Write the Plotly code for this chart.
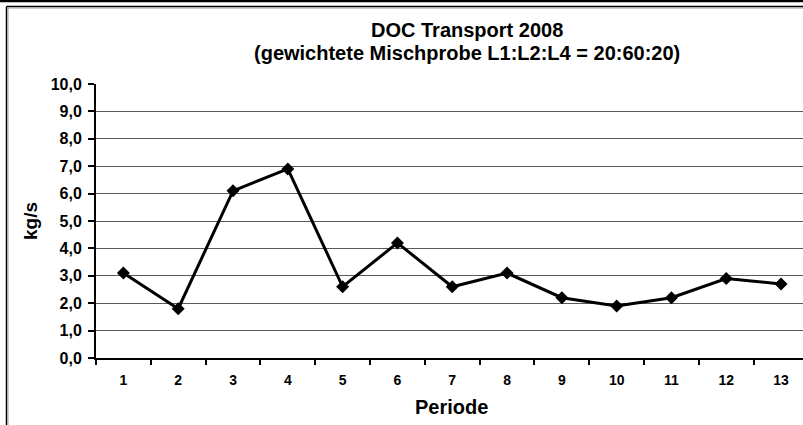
import plotly.graph_objects as go

# DOC transport per sampling period (kg/s)
perioden = ["1", "2", "3", "4", "5", "6", "7", "8", "9", "10", "11", "12", "13"]
doc_kg_s = [3.1, 1.8, 6.1, 6.9, 2.6, 4.2, 2.6, 3.1, 2.2, 1.9, 2.2, 2.9, 2.7]
y_ticks = [0, 1, 2, 3, 4, 5, 6, 7, 8, 9, 10]
title_lines = ["DOC Transport 2008", "(gewichtete Mischprobe L1:L2:L4 = 20:60:20)"]

W, H = 803, 425
L, R, T, B = 96, 0, 84, 67
FONT = "Liberation Sans, Arial, sans-serif"

def px_x(px):
    return (px - L) / (W - L - R)

def px_y(py):
    return (H - B - py) / (H - T - B)

fig = go.Figure()
fig.add_trace(go.Scatter(
    x=perioden, y=doc_kg_s, mode="lines+markers",
    line=dict(color="black", width=3),
    marker=dict(symbol="diamond", size=10, color="black"),
    showlegend=False, cliponaxis=False,
))

shapes = [
    # thick rule across the top
    dict(type="line", xref="paper", yref="paper", x0=px_x(-5), x1=px_x(W + 5),
         y0=px_y(1), y1=px_y(1), line=dict(color="black", width=2.5)),
    # chart frame (left and top edges)
    dict(type="line", xref="paper", yref="paper", x0=px_x(6.5), x1=px_x(6.5),
         y0=px_y(6.5), y1=px_y(H + 5), line=dict(color="black", width=1.5)),
    dict(type="line", xref="paper", yref="paper", x0=px_x(6.5), x1=px_x(W + 5),
         y0=px_y(6.5), y1=px_y(6.5), line=dict(color="black", width=1.5)),
    dict(type="line", xref="paper", yref="paper", x0=px_x(8), x1=px_x(8),
         y0=px_y(8), y1=px_y(H + 5), line=dict(color="#9a9a9a", width=1)),
    dict(type="line", xref="paper", yref="paper", x0=px_x(8), x1=px_x(W + 5),
         y0=px_y(8), y1=px_y(8), line=dict(color="#9a9a9a", width=1)),
]

annotations = [
    dict(text="<b>%s</b>" % title_lines[0], xref="paper", yref="paper",
         x=px_x(467), y=px_y(30), showarrow=False, xanchor="center", yanchor="middle",
         font=dict(family=FONT, size=20, color="black")),
    dict(text="<b>%s</b>" % title_lines[1], xref="paper", yref="paper",
         x=px_x(467), y=px_y(53), showarrow=False, xanchor="center", yanchor="middle",
         font=dict(family=FONT, size=20, color="black")),
    dict(text="<b>kg/s</b>", xref="paper", yref="paper", x=px_x(30), y=px_y(221),
         textangle=-90, showarrow=False, xanchor="center", yanchor="middle",
         font=dict(family=FONT, size=19, color="black")),
    dict(text="<b>Periode</b>", xref="paper", yref="paper", x=px_x(452), y=px_y(407),
         showarrow=False, xanchor="center", yanchor="middle",
         font=dict(family=FONT, size=20, color="black")),
]

fig.update_layout(
    width=W, height=H,
    margin=dict(l=L, r=R, t=T, b=B),
    paper_bgcolor="white", plot_bgcolor="white",
    separators=",.",
    font=dict(family=FONT, color="black"),
    shapes=shapes,
    annotations=annotations,
    xaxis=dict(
        type="category", categoryorder="array", categoryarray=perioden,
        range=[-0.5, 12.4], tickson="boundaries",
        ticks="outside", ticklen=5, tickwidth=1.5, tickcolor="black",
        ticklabelstandoff=8,
        showline=True, linecolor="black", linewidth=2,
        showgrid=False, zeroline=False,
        tickfont=dict(family=FONT, size=14, color="black", weight="bold"),
    ),
    yaxis=dict(
        range=[0, 10], tickvals=y_ticks, tickformat=".1f",
        ticks="outside", ticklen=6, tickwidth=1.5, tickcolor="black",
        ticklabelstandoff=3,
        showline=True, linecolor="black", linewidth=2,
        showgrid=True, gridcolor="#5a5a5a", gridwidth=1,
        zeroline=False,
        tickfont=dict(family=FONT, size=16, color="black", weight="bold"),
    ),
)

fig.write_html("out.html")
